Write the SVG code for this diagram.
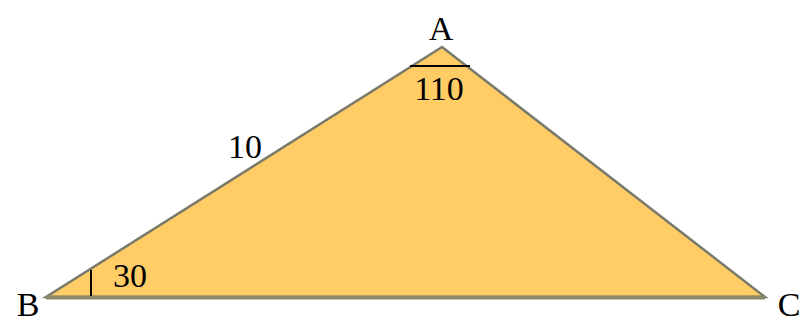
<svg xmlns="http://www.w3.org/2000/svg" width="810" height="322" viewBox="0 0 810 322">
<style>
text{font-family:"Liberation Serif","Times New Roman",serif;fill:#000;font-size:34px}
.mark{stroke:#000;stroke-width:2;fill:none}
</style>
<rect width="810" height="322" fill="#fff"/>
<g id="triangle">
<polygon points="442,47 46,297 765,297" fill="#FFCC66" stroke="#7a7a6a" stroke-width="2.5"/>
<line x1="46" y1="297.5" x2="765" y2="297.5" stroke="#8a8a6a" stroke-width="4"/>
</g>
<g id="marks">
<line class="mark" x1="410" y1="66" x2="470" y2="66"/>
<line class="mark" x1="91" y1="270" x2="91" y2="296"/>
</g>
<g id="labels">
<text x="441" y="40" text-anchor="middle">A</text>
<text x="28" y="316" text-anchor="middle">B</text>
<text x="789" y="316" text-anchor="middle">C</text>
<text x="439" y="100" text-anchor="middle">110</text>
<text x="245" y="158" text-anchor="middle">10</text>
<text x="130" y="287" text-anchor="middle">30</text>
</g>
</svg>
